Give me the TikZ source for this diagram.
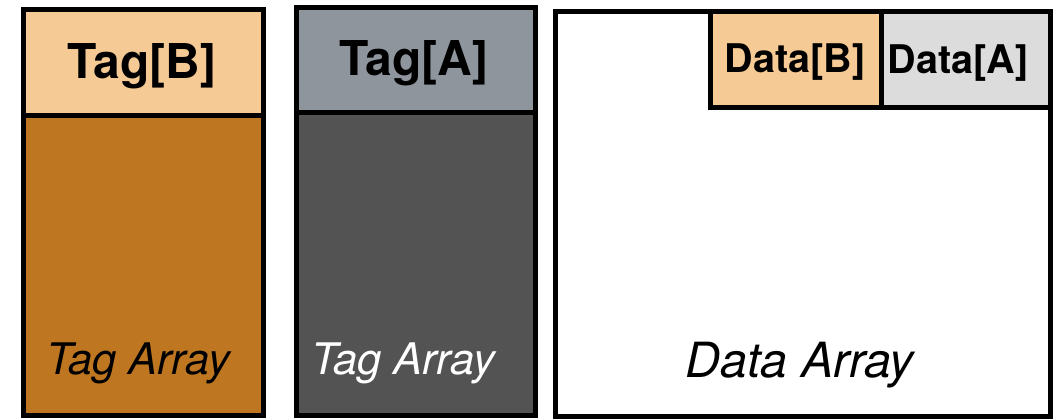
\documentclass[tikz,border=0pt]{standalone}
\usepackage{fontspec}
\setmainfont{TeX Gyre Heros}
\definecolor{peach}{HTML}{F6CA94}
\definecolor{ochre}{HTML}{BE7620}
\definecolor{slate}{HTML}{8E959D}
\definecolor{charcoal}{HTML}{535353}
\definecolor{lightgray}{HTML}{DCDCDC}
\begin{document}
\begin{tikzpicture}[x=1pt,y=-1pt,
  cell/.style={draw=black, line width=5pt, inner sep=0pt, outer sep=0pt, anchor=north west},
  headtext/.style={anchor=base, inner sep=0pt, font=\bfseries\fontsize{48}{52}\selectfont},
  datatext/.style={anchor=base, inner sep=0pt, font=\bfseries\fontsize{39.5}{43}\selectfont},
  arraytext/.style={anchor=base west, inner sep=0pt, font=\itshape\fontsize{43.5}{46}\selectfont}]
\useasboundingbox (0,0) rectangle (1061,418);

% tag array for B
\node[cell, fill=ochre, minimum width=240pt, minimum height=300pt] (bodyB) at (23,115) {};
\node[cell, fill=peach, minimum width=240pt, minimum height=105.5pt] (headB) at (23,9.5) {};
\node[headtext] (tagB) at (142,78) {Tag[B]};
\node[arraytext] (arrB) at (46,374) {Tag Array};

% tag array for A
\node[cell, fill=charcoal, minimum width=239pt, minimum height=303pt] (bodyA) at (296,112) {};
\node[cell, fill=slate, minimum width=239pt, minimum height=104.5pt] (headA) at (296,7.5) {};
\node[headtext] (tagA) at (414,75) {Tag[A]};
\node[arraytext, text=white] (arrA) at (311,374) {Tag Array};

% data array
\node[cell, fill=white, minimum width=495pt, minimum height=405pt] (data) at (555,11) {};
\node[cell, fill=peach, minimum width=171pt, minimum height=96pt] (dataB) at (710,11) {};
\node[cell, fill=lightgray, minimum width=169pt, minimum height=96pt] (dataA) at (881,11) {};
\node[datatext] (lblB) at (795,72) {Data[B]};
\node[datatext] (lblA) at (958,73) {Data[A]};
\node[anchor=base, inner sep=0pt, font=\itshape\fontsize{48.5}{52}\selectfont] (arrD) at (800,377) {Data Array};
\end{tikzpicture}
\end{document}
